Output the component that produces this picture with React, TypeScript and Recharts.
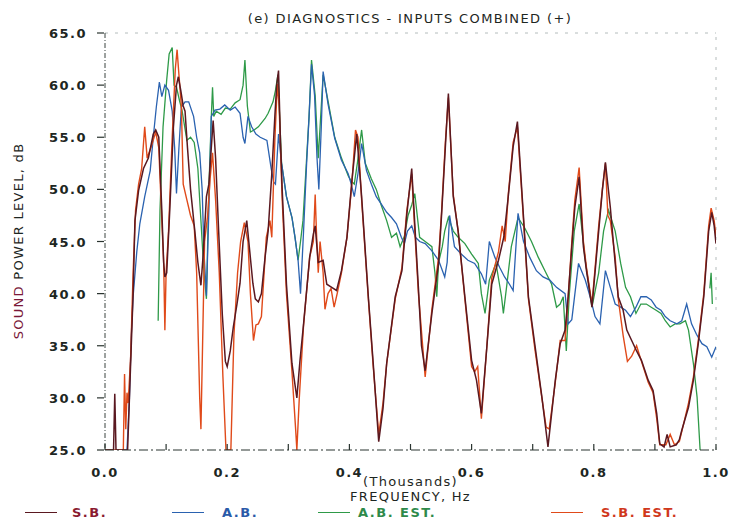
import React from 'react';
import { LineChart, Line, XAxis, YAxis, Legend, ReferenceLine } from 'recharts';

// frequency in Hz, level in dB
const sbFreq = [0, 14, 16, 18, 37, 40, 43, 46, 49, 55, 63, 71, 79, 83, 88, 93, 96, 98, 101, 106, 112, 117, 120, 124, 128, 131, 135, 140, 147, 152, 157, 161, 166, 170, 174, 177, 181, 186, 192, 197, 200, 205, 210, 216, 221, 226, 232, 237, 242, 246, 251, 256, 262, 267, 273, 278, 281, 284, 287, 290, 297, 306, 314, 319, 325, 335, 341, 344, 349, 357, 363, 371, 379, 387, 396, 404, 412, 420, 431, 439, 448, 455, 461, 475, 486, 494, 502, 507, 513, 518, 524, 535, 546, 551, 557, 562, 570, 578, 589, 600, 608, 616, 625, 633, 644, 653, 660, 668, 675, 685, 693, 704, 715, 725, 737, 745, 753, 758, 764, 769, 776, 783, 788, 797, 808, 814, 819, 827, 835, 840, 848, 854, 862, 870, 878, 889, 897, 903, 908, 915, 920, 925, 935, 940, 944, 955, 963, 971, 980, 988, 993, 997, 1000];
const sbLevel = [25, 25, 30.4, 25, 25, 30, 35, 40, 47, 49.9, 52, 53, 55.3, 55.7, 55, 48, 43, 41.6, 42, 48, 56, 60, 60.8, 59.5, 58, 57.5, 54, 50, 46, 43, 40.8, 44, 49.3, 50.5, 54, 56.6, 53, 46, 38, 33.5, 33, 34.5, 36.8, 39, 41, 45, 47, 44, 41, 39.5, 39.2, 40, 43.5, 46, 51.5, 57, 60, 61.4, 55, 50, 40.9, 33.3, 30, 33.5, 37.1, 43.5, 45.7, 46.5, 43, 43.2, 40.9, 40.6, 40.3, 42.2, 45.4, 50.8, 55.3, 49.3, 39.7, 33.3, 25.8, 29, 33.3, 39.7, 42.2, 47.6, 52, 46.7, 40.5, 35, 32.6, 38.1, 42.9, 47.7, 54, 59.2, 49.3, 46, 39.7, 33.6, 31.7, 28.5, 34.9, 40.9, 43.2, 45.5, 49.3, 54.1, 56.5, 47.3, 39.7, 34.9, 30.1, 25.3, 31.7, 35.2, 36.5, 39.7, 44.5, 48.3, 51.2, 44.5, 42.2, 38.7, 46, 49.9, 52.6, 48.3, 42.9, 39.7, 38.4, 36.5, 35.5, 34.5, 33.6, 31.7, 30.7, 28.5, 25.6, 25.3, 26.5, 25.3, 25.5, 26, 26.9, 29.1, 31.7, 35.2, 39.7, 46, 47.8, 46.5, 44.8];

const abFreq = [36, 40, 43, 46, 52, 57, 65, 74, 79, 84, 89, 93, 98, 104, 110, 114, 117, 121, 125, 131, 137, 145, 150, 155, 159, 162, 166, 170, 174, 180, 188, 196, 205, 213, 221, 226, 229, 234, 240, 247, 254, 265, 272, 276, 279, 284, 289, 297, 306, 311, 316, 320, 325, 330, 334, 338, 343, 347, 350, 354, 357, 365, 376, 387, 398, 403, 408, 414, 420, 428, 436, 444, 452, 461, 469, 477, 485, 490, 495, 502, 508, 515, 524, 535, 546, 556, 560, 564, 572, 583, 594, 605, 616, 623, 629, 638, 646, 654, 662, 668, 676, 685, 695, 706, 717, 728, 739, 753, 758, 764, 775, 786, 794, 802, 810, 819, 827, 835, 844, 852, 860, 869, 877, 886, 894, 902, 910, 917, 925, 936, 944, 952, 960, 968, 977, 985, 993, 1000];
const abLevel = [25, 30, 36, 39.7, 44, 46.7, 49.3, 51.8, 55, 57.9, 60.3, 58.9, 60, 59.5, 57.5, 54, 49.6, 54, 57.9, 58.4, 58.4, 57, 55, 53.5, 50, 44, 39.8, 48, 57, 57.6, 57.7, 58.1, 57.6, 57.9, 57.3, 55, 54.4, 57, 56, 55.3, 55, 54.7, 52, 50.7, 50.5, 55.3, 52.5, 49.3, 47.3, 45.4, 43.2, 40, 46, 52.5, 57, 62, 59, 53, 50, 56, 61.3, 58.2, 54.9, 52.8, 51.5, 50.5, 49.3, 51.5, 54.4, 51.8, 50.5, 49.3, 48.6, 47.8, 47.3, 46.7, 45.4, 44.8, 46, 46.5, 45.4, 45, 44.8, 44.1, 43.2, 41.6, 43, 47.5, 44.5, 43.8, 43.2, 42.9, 41.9, 40.9, 45, 43.5, 42.5, 41.6, 40.9, 40.3, 47.7, 45, 43.5, 42.2, 41.6, 41.3, 40.6, 40, 37.1, 37.5, 42.9, 41.3, 39.7, 37.8, 37.1, 42.2, 40.6, 39, 38.7, 38.4, 37.8, 38.7, 39.7, 39.7, 39.4, 38.7, 38.4, 37.8, 37.4, 37.1, 37.4, 39, 37.1, 36.1, 35.2, 34.9, 33.9, 34.9];

const abEstFreq = [87, 90, 95, 101, 105, 110, 113, 117, 122, 126, 134, 140, 146, 152, 157, 162, 166, 170, 174, 176, 178, 182, 190, 197, 205, 213, 221, 226, 229, 233, 238, 244, 251, 262, 267, 275, 279, 283, 289, 297, 306, 311, 316, 320, 324, 330, 334, 338, 344, 349, 352, 357, 365, 376, 387, 398, 403, 408, 413, 420, 426, 436, 444, 452, 461, 469, 477, 483, 490, 496, 502, 507, 515, 524, 535, 540, 543, 546, 552, 556, 562, 570, 578, 589, 600, 611, 616, 622, 629, 640, 649, 652, 658, 665, 676, 687, 698, 709, 720, 731, 739, 745, 750, 755, 760, 768, 776, 786, 797, 808, 816, 824, 835, 844, 852, 860, 869, 877, 886, 894, 902, 910, 917, 925, 933, 941, 950, 955, 963, 969, 974, 976, 990, 992, 994];
const abEstLevel = [37.4, 48, 56, 60.5, 63, 63.6, 60, 59.8, 58.5, 57.6, 54.7, 55, 54.5, 52, 47, 42, 39.5, 50, 57, 59.8, 57, 57.5, 57.2, 57.8, 57.7, 58.3, 58.6, 60, 62.4, 58, 55.5, 55.7, 56, 56.8, 57.3, 58.4, 59.5, 61, 52.5, 49.3, 47.3, 45.4, 43.2, 45, 47, 53, 57, 62.4, 59, 53, 56, 61, 58.5, 55, 53, 51.3, 50.8, 50.5, 52.5, 55.7, 52.5, 51, 50, 48.5, 47, 45.4, 45.8, 44.5, 45.5, 47.5, 48.5, 49.6, 45.4, 45, 44.5, 42, 39.7, 43, 44.5, 46, 47.3, 46, 45.4, 44.8, 43.8, 42.9, 40, 38.1, 41.3, 42.9, 39.7, 38.1, 41, 44.5, 47.3, 46.3, 45, 43.5, 42.2, 40.9, 38.7, 39, 39.7, 34.5, 40, 46, 48.6, 43.2, 38.7, 42, 46, 48, 46, 42.9, 40.6, 39.7, 38.1, 39, 39, 38.7, 38.4, 38.1, 37.4, 36.8, 37.1, 37.1, 37.4, 36.5, 33.3, 30.1, 25, null, 40.5, 42, 39];

const sbEstFreq = [0, 30, 32, 34, 36, 38, 42, 46, 50, 55, 60, 65, 69, 75, 83, 88, 93, 96, 98, 100, 104, 110, 115, 118, 121, 125, 128, 134, 140, 146, 150, 155, 157, 159, 163, 168, 172, 176, 181, 187, 193, 198, 206, 211, 217, 222, 228, 234, 238, 243, 247, 251, 256, 264, 270, 273, 278, 282, 285, 290, 297, 306, 312, 314, 318, 325, 335, 341, 344, 346, 349, 352, 357, 360, 365, 370, 375, 380, 387, 396, 404, 410, 414, 420, 431, 439, 448, 455, 461, 475, 486, 494, 502, 507, 513, 524, 535, 546, 551, 557, 562, 570, 578, 589, 600, 605, 610, 616, 625, 633, 644, 650, 655, 660, 668, 675, 685, 693, 704, 715, 722, 727, 737, 745, 753, 758, 764, 769, 776, 783, 788, 797, 808, 814, 819, 823, 827, 835, 840, 848, 855, 862, 870, 878, 889, 897, 903, 908, 918, 925, 932, 940, 947, 955, 963, 971, 980, 988, 992, 997, 1000];
const sbEstLevel = [25, 25, 32.3, 27, 30.5, 29.5, 34, 42, 48, 50.5, 52, 56, 53, 54, 55.5, 54, 47, 43, 36.5, 42, 46, 55, 61.5, 63.4, 61, 58, 50.5, 49, 47.5, 46.5, 42, 30, 27, 33, 45, 47.5, 51, 53.5, 49, 42, 32, 25, 25, 36, 42, 45, 46.8, 45, 40, 35.5, 37, 37.1, 37.8, 45.4, 47, 45.4, 54.7, 60.1, 58, 49, 40, 32.5, 27, 25, 30, 37, 43.5, 45, 49.5, 46, 42, 45, 42, 38.5, 40, 40.5, 38.7, 40, 42, 45.4, 50.5, 55.7, 55, 49, 39.5, 33, 26.5, 29.5, 33.3, 39.5, 42.5, 48, 51.5, 46, 40, 32, 38.5, 43.5, 48, 54.5, 58.8, 49.5, 46, 39.5, 33, 32.5, 33, 28, 35, 41.5, 44, 46.5, 45, 49.5, 54.5, 56, 47, 39.5, 34.5, 30, 27.2, 27, 31.5, 35.5, 35.5, 39.5, 45, 49, 52.1, 45, 42.5, 39, 46.5, 50, 52.5, 47.5, 47, 43.5, 39.5, 36, 33.5, 34, 35, 33.5, 31.5, 30.5, 28, 25.5, 25.5, 26.5, 25.5, 25.8, 27.5, 29.5, 32, 35.5, 40, 46.5, 48.2, 47, 45.5];

const xTicks = [0, 100, 200, 300, 400, 500, 600, 700, 800, 900, 1000];
const yTicks = [25, 30, 35, 40, 45, 50, 55, 60, 65];
const legendOrder = ['S.B.', 'A.B.', 'A.B. EST.', 'S.B. EST.'];

const toPoints = (fs: number[], vs: (number | null)[]) => fs.map((f, i) => ({ f, v: vs[i] }));

const FONT = '"DejaVu Sans", sans-serif';
const INK = '#1d2622';

const FreqTick = ({ x, y, payload }: any) => {
  const major = payload.value % 200 === 0;
  return (
    <g>
      <line x1={x} x2={x} y1={y} y2={y - 6} stroke="#2a3430" strokeWidth={1.2} />
      {major && (
        <text x={x} y={y + 27} textAnchor="middle" fontFamily={FONT} fontWeight="bold" fontSize={13} letterSpacing={1.5} fill={INK}>
          {(payload.value / 1000).toFixed(1)}
        </text>
      )}
    </g>
  );
};

const LevelTick = ({ x, y, payload }: any) => (
  <g>
    <line x1={x + 10} x2={x + 17} y1={y} y2={y} stroke="#2a3430" strokeWidth={1.2} />
    <text x={x} y={y + 5} textAnchor="end" fontFamily={FONT} fontWeight="bold" fontSize={13} letterSpacing={1.5} fill={INK}>
      {payload.value.toFixed(1)}
    </text>
  </g>
);

const FreqLabel = ({ viewBox }: any) => {
  const cx = viewBox.x + viewBox.width / 2;
  return (
    <g fontFamily={FONT} fontSize={13} letterSpacing={1.3} fill={INK} textAnchor="middle">
      <text x={cx} y={viewBox.y + 36}>(Thousands)</text>
      <text x={cx} y={viewBox.y + 51}>FREQUENCY, Hz</text>
    </g>
  );
};

const LevelLabel = () => (
  <text transform="translate(23,241) rotate(-90)" textAnchor="middle" fontFamily={FONT} fontSize={13} letterSpacing={1.3} fill={INK}>
    <tspan fill="#7a1838">SOUND</tspan>
    <tspan> POWER LEVEL, dB</tspan>
  </text>
);

const legendPos: Record<string, { line: number; text: number; color: string }> = {
  'S.B.': { line: 25, text: 72, color: '#8a1a30' },
  'A.B.': { line: 172, text: 222, color: '#2a5aa8' },
  'A.B. EST.': { line: 318, text: 358, color: '#2e8a4a' },
  'S.B. EST.': { line: 551, text: 601, color: '#d0381c' },
};

const renderLegend = ({ payload }: any) => (
  <div style={{ position: 'relative', width: 732, height: 20 }}>
    {legendOrder.map((name) => {
      const entry = (payload || []).find((p: any) => p.value === name);
      const pos = legendPos[name];
      return (
        <React.Fragment key={name}>
          <div style={{ position: 'absolute', left: pos.line, top: 9, width: 32, height: 0, borderTop: `1.5px solid ${entry ? entry.color : pos.color}` }} />
          <div style={{ position: 'absolute', left: pos.text, top: 2, fontFamily: FONT, fontWeight: 'bold', fontSize: 13, letterSpacing: 1.5, color: pos.color, whiteSpace: 'nowrap' }}>
            {name}
          </div>
        </React.Fragment>
      );
    })}
  </div>
);

export default function App() {
  return (
    <div style={{ position: 'absolute', left: 0, top: 0, width: 732, height: 523, background: '#fff' }}>
      <div style={{ position: 'absolute', left: 100, top: 11, width: 620, textAlign: 'center', fontFamily: FONT, fontSize: 13, letterSpacing: 1.4, color: INK }}>
        (e) DIAGNOSTICS - INPUTS COMBINED (+)
      </div>
      <LineChart width={732} height={523} margin={{ top: 33, right: 16, bottom: 0, left: 0 }}>
        <XAxis
          dataKey="f"
          type="number"
          domain={[0, 1000]}
          ticks={xTicks}
          allowDataOverflow
          height={73}
          tickSize={0}
          tickMargin={0}
          tickLine={false}
          tick={<FreqTick />}
          axisLine={{ stroke: '#2a3430', strokeWidth: 1.2, strokeDasharray: '9 3 2 3' }}
          label={<FreqLabel />}
        />
        <YAxis
          type="number"
          domain={[25, 65]}
          ticks={yTicks}
          allowDataOverflow
          width={105}
          tickSize={0}
          tickMargin={18}
          tickLine={false}
          tick={<LevelTick />}
          axisLine={{ stroke: '#3a4440', strokeWidth: 1, strokeDasharray: '5 2 1 2' }}
          label={<LevelLabel />}
        />
        <ReferenceLine y={65} stroke="#b4bcbc" strokeDasharray="3 7" />
        <ReferenceLine x={1000} stroke="#b4bcbc" strokeDasharray="3 7" />
        <Legend layout="horizontal" verticalAlign="middle" align="center" wrapperStyle={{ top: 503, left: 0, width: 732, height: 20 }} content={renderLegend} />
        <Line data={toPoints(abEstFreq, abEstLevel)} dataKey="v" name="A.B. EST." type="linear" stroke="#2e9a48" strokeWidth={1.3} dot={false} activeDot={false} isAnimationActive={false} />
        <Line data={toPoints(abFreq, abLevel)} dataKey="v" name="A.B." type="linear" stroke="#2a62b0" strokeWidth={1.3} dot={false} activeDot={false} isAnimationActive={false} />
        <Line data={toPoints(sbEstFreq, sbEstLevel)} dataKey="v" name="S.B. EST." type="linear" stroke="#e04a1a" strokeWidth={1.4} dot={false} activeDot={false} isAnimationActive={false} />
        <Line data={toPoints(sbFreq, sbLevel)} dataKey="v" name="S.B." type="linear" stroke="#5a1820" strokeWidth={1.5} dot={false} activeDot={false} isAnimationActive={false} />
      </LineChart>
    </div>
  );
}
